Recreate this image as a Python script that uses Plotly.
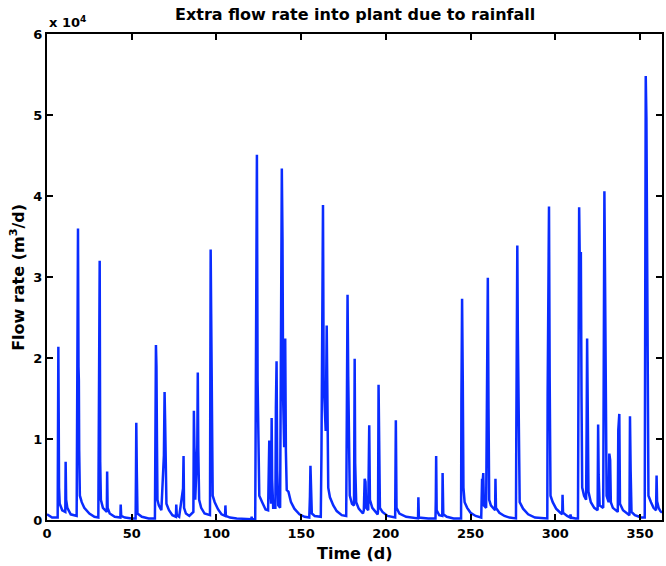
import plotly.graph_objects as go

# flow readings, split by quarter (time in days, flow in m3/d)
t_q1 = [0, 3, 6.3, 6.5, 6.7, 6.9, 7.1, 7.5, 9, 10.8, 11.0, 11.3, 12, 14,
        17.5, 17.9, 18.1, 18.3, 18.6, 18.8, 19.0, 19.4, 20.5, 22, 25, 28,
        30.3, 30.5, 30.8, 31.1, 31.4, 31.8, 33, 35.3, 35.5, 35.8, 37, 40,
        43.3, 43.5, 43.8, 46, 50, 52.3, 52.5, 52.7, 53.0, 53.4, 56, 60,
        63.7, 63.9, 64.3, 64.6, 64.9, 65.2, 66, 67.5, 69.0, 69.4, 69.7, 70.0,
        70.5, 72, 74, 76.1, 76.3, 76.6, 78, 80.3, 80.6, 80.9, 82, 84,
        86.4, 86.7, 87.0, 87.5, 88.7, 89.0, 89.3, 89.8, 91]
q_q1 = [700, 300, 300, 11300, 21400, 13300, 4000, 2000, 1200, 1000, 7200, 2500, 1500, 700,
        500, 13600, 29800, 36000, 18900, 17300, 8600, 3000, 2200, 1500, 800, 400,
        300, 12100, 29200, 32000, 7200, 2500, 1500, 1000, 6000, 1500, 800, 400,
        300, 1900, 500, 300, 200, 200, 5300, 12000, 6200, 800, 400, 200,
        200, 8000, 21600, 19000, 9900, 2500, 1800, 1200, 8000, 15800, 12500, 5800,
        2000, 1200, 600, 400, 1900, 600, 400, 3900, 7900, 1500, 800, 500,
        1000, 13500, 7200, 2500, 9100, 18200, 8700, 2500, 1500]

t_q2 = [93, 96.2, 96.4, 96.6, 96.9, 97.1, 97.4, 97.8, 99, 101, 103, 105.1, 105.3, 105.6,
        108, 112, 120.6, 120.8, 121.0, 122.9, 123.2, 123.5, 123.9, 124.3, 124.8, 125.3,
        127, 129, 130.5, 130.8, 131.2, 131.6, 132.3, 132.6, 132.9, 133.5, 134.8, 135.1,
        135.5, 135.9, 136.5, 137.6, 138.0, 138.6, 139.0, 139.4, 140.0, 140.6, 141.0,
        141.5, 142.5, 144, 146, 149, 152, 154.8, 155.2, 155.5, 155.9, 156.3, 158,
        161.6, 162.0, 162.4, 162.9, 163.3, 163.8, 164.5, 165.1, 165.4, 166, 167, 169,
        171, 174, 176.6, 177.0, 177.4, 177.8, 178.2, 178.7, 180, 181.2, 181.4, 181.6,
        181.9, 182.5]
q_q2 = [800, 600, 9200, 33400, 25500, 20900, 14400, 3000, 2200, 1300, 700, 500, 1800, 500,
        300, 200, 100, 400, 100, 100, 15200, 35500, 45100, 17200, 11900, 3000,
        2200, 1300, 1200, 9200, 9800, 4500, 2000, 12600, 5000, 1500, 1500, 13800,
        19600, 6200, 1800, 1500, 17200, 43400, 34700, 14800, 9000, 22400, 8500,
        3700, 3500, 2200, 1400, 700, 400, 300, 2900, 6700, 3700, 800, 500,
        400, 8200, 30400, 38900, 17000, 15000, 11000, 24000, 11500, 4000, 2800, 1800,
        1100, 600, 500, 19100, 27800, 17700, 11000, 3000, 2000, 1800, 10000, 19900,
        7000, 2200]

t_q3 = [184, 186.5, 187.0, 187.5, 188.0, 188.4, 189.6, 190.0, 190.2, 190.6, 192,
        195.2, 195.4, 195.7, 196.0, 196.5, 198, 201, 205.5, 205.7, 205.9, 206.3, 208,
        212, 219.0, 219.2, 219.5, 225, 229.3, 229.5, 229.7, 230.0, 231.5, 233.3, 233.5,
        233.9, 236, 240, 244.4, 244.6, 244.8, 245.0, 245.4, 245.8, 246.5, 248, 250,
        253, 256.3, 256.5, 256.8, 257.1, 257.5, 257.9, 259.2, 259.5, 259.8, 260.2,
        260.6, 261.0, 262, 264.5, 264.7, 265.0, 267, 270, 273]
q_q3 = [1400, 800, 1200, 5100, 4700, 1500, 1200, 7800, 11700, 2500, 1500,
        700, 1200, 16700, 9200, 1500, 1000, 500, 300, 6000, 12300, 1500, 800,
        400, 200, 2800, 300, 200, 200, 2600, 7900, 1200, 600, 500, 5800,
        700, 400, 200, 200, 14800, 25300, 27300, 17500, 4000, 2200, 1500, 900,
        500, 300, 2000, 5100, 4500, 5800, 1800, 1500, 15000, 26900, 29900,
        13800, 2500, 1800, 1200, 5100, 1500, 900, 500, 300]

t_q4 = [276.8, 277.0, 277.3, 277.6, 277.9, 278.2, 278.5, 279, 281, 284, 288, 292,
        295.3, 295.5, 295.8, 296.0, 296.3, 296.7, 297.2, 298.5, 300.5, 303, 304.1,
        304.3, 304.6, 307, 308.8, 309.0, 309.3, 312, 313.4, 313.6, 313.8, 314.1,
        314.6, 315.1, 315.5, 315.9, 317, 318.2, 318.5, 318.8, 319.1, 319.6, 321, 323,
        325.0, 325.3, 325.6, 326.2, 328.3, 328.6, 329.0, 329.4, 329.8, 330.3, 331.5,
        331.9, 332.4, 332.8, 334, 336.9, 337.2, 337.8, 338.2, 340, 343.8, 344.1,
        344.5, 345, 347, 349.5, 349.7, 350, 352.8, 353.0, 353.4, 353.8, 354.2,
        354.6, 355, 356.5, 358, 359.5, 359.8, 360.1, 361, 362, 363]
q_q4 = [200, 10700, 27900, 33900, 23400, 16200, 8800, 2200, 1400, 700, 300, 200,
        200, 15600, 24400, 30400, 38700, 17700, 3000, 2200, 1400, 900, 700,
        3100, 900, 500, 300, 700, 300, 200, 200, 11400, 19500, 38600,
        29700, 33100, 15200, 4000, 3000, 2500, 11000, 22400, 15600, 3500, 2200, 1500,
        1200, 11800, 5600, 1800, 1500, 18900, 40600, 29400, 11200, 3000, 2200,
        8200, 7400, 2200, 1500, 1000, 11100, 13100, 2000, 1200, 600, 12800,
        6000, 1000, 600, 400, 600, 300, 300, 29000, 54800, 49700, 29000,
        8800, 3000, 2200, 1500, 1200, 5500, 2300, 1500, 1100, 900]

y_ticks = [0, 10000, 20000, 30000, 40000, 50000, 60000]
y_labels = ["0", "1", "2", "3", "4", "5", "6"]
x_ticks = [0, 50, 100, 150, 200, 250, 300, 350]

t = t_q1 + t_q2 + t_q3 + t_q4
q = q_q1 + q_q2 + q_q3 + q_q4

fnt = "DejaVu Sans, sans-serif"

fig = go.Figure()
fig.add_trace(go.Scatter(x=t, y=q, mode="lines", hoverinfo="skip",
                         line=dict(color="#0a2cff", width=2.5)))

axis_common = dict(showline=True, linecolor="black", linewidth=2, mirror="allticks",
                   ticks="inside", ticklen=6, tickwidth=2, tickcolor="black",
                   showgrid=False, zeroline=False,
                   tickfont=dict(family=fnt, size=13, color="black", weight="bold"))

fig.update_xaxes(range=[0, 363], tickvals=x_ticks, **axis_common)
fig.update_yaxes(range=[0, 60000], tickvals=y_ticks, ticktext=y_labels, **axis_common)

fig.update_layout(
    width=666, height=566,
    margin=dict(l=47, r=2, t=34, b=46),
    plot_bgcolor="white", paper_bgcolor="white",
    showlegend=False,
    annotations=[
        dict(text="Extra flow rate into plant due to rainfall", x=0.5, y=1.041,
             xref="paper", yref="paper", showarrow=False, xanchor="center", yanchor="middle",
             font=dict(family=fnt, size=16, color="black", weight="bold")),
        dict(text="x 10<sup>4</sup>", x=0.0, y=1.024, xref="paper", yref="paper",
             showarrow=False, xanchor="left", yanchor="middle",
             font=dict(family=fnt, size=13, color="black", weight="bold")),
        dict(text="Time (d)", x=0.5, y=-0.068, xref="paper", yref="paper",
             showarrow=False, xanchor="center", yanchor="middle",
             font=dict(family=fnt, size=16, color="black", weight="bold")),
        dict(text="Flow rate (m<sup>3</sup>/d)", x=-0.049, y=0.5, xref="paper", yref="paper",
             showarrow=False, xanchor="center", yanchor="middle", textangle=-90,
             font=dict(family=fnt, size=16, color="black", weight="bold")),
    ],
)

# drop the page's default body margin so the figure sits at the window's corner
fig.write_html("out.html", config={"displayModeBar": False},
               post_script="document.body.style.margin='0';document.body.style.overflow='hidden';")
